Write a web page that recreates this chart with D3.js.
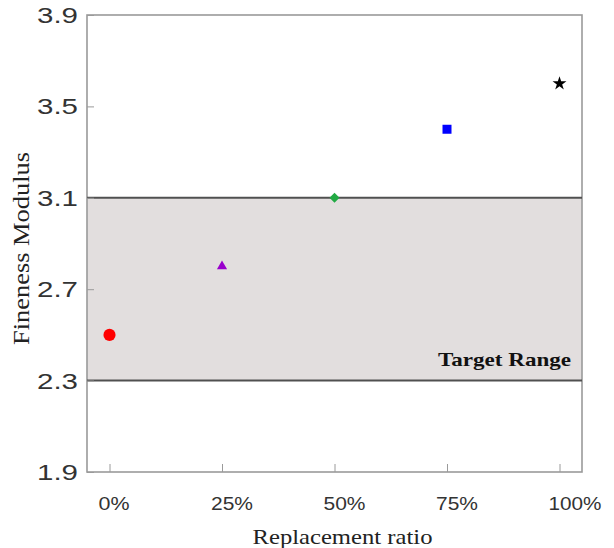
<!DOCTYPE html>
<html>
<head>
<meta charset="utf-8">
<script src="https://cdn.jsdelivr.net/npm/d3@7"></script>
<style>
  html, body { margin: 0; padding: 0; background: #fff; }
  svg { display: block; }
</style>
</head>
<body>
<svg id="chart" width="614" height="548"></svg>
<script>
// Replacement ratio (%) and measured fineness modulus
const ratios = [0, 25, 50, 75, 100];
const finenessModulus = [2.5, 2.8, 3.1, 3.4, 3.6];
const markerShapes = ["circle", "triangle", "diamond", "square", "star"];
const markerColors = ["#ff0000", "#9900cc", "#22aa44", "#0000ff", "#000000"];
const xTickLabels = ["0%", "25%", "50%", "75%", "100%"];
const yTicks = [1.9, 2.3, 2.7, 3.1, 3.5, 3.9];
const targetRange = [2.3, 3.1];

const svg = d3.select("#chart");
const margin = { left: 87, right: 32, top: 15, bottom: 76 };
const W = 614, H = 548;
const plotW = W - margin.left - margin.right;
const plotH = H - margin.top - margin.bottom;

const x = d3.scaleLinear().domain([-5, 105]).range([margin.left, margin.left + plotW]);
const y = d3.scaleLinear().domain([1.9, 3.9]).range([margin.top + plotH, margin.top]);

const sans = "Liberation Sans, Arial, sans-serif";
const serif = "Liberation Serif, Times New Roman, serif";

// Target range band
svg.append("rect")
  .attr("x", x(-5)).attr("width", x(105) - x(-5))
  .attr("y", y(targetRange[1])).attr("height", y(targetRange[0]) - y(targetRange[1]))
  .attr("fill", "#e2dede");

// Frame
svg.append("rect")
  .attr("x", x(-5)).attr("y", y(3.9))
  .attr("width", x(105) - x(-5)).attr("height", y(1.9) - y(3.9))
  .attr("fill", "none").attr("stroke", "#9a9a9a").attr("stroke-width", 1.6);

// Range boundaries
svg.selectAll("line.bound").data(targetRange).join("line")
  .attr("class", "bound")
  .attr("x1", x(-5)).attr("x2", x(105))
  .attr("y1", d => y(d)).attr("y2", d => y(d))
  .attr("stroke", "#505050").attr("stroke-width", 2);

// Y axis (ticks point inward)
const yAxis = svg.append("g")
  .attr("transform", `translate(${x(-5)},0)`)
  .call(d3.axisRight(y).tickValues(yTicks).tickSize(7).tickFormat(""));
yAxis.select(".domain").remove();
yAxis.selectAll("line").attr("stroke", "#9a9a9a").attr("stroke-width", 1);

svg.selectAll("text.ylab").data(yTicks).join("text")
  .attr("class", "ylab")
  .attr("x", 78).attr("y", d => y(d) + 8)
  .attr("text-anchor", "end")
  .attr("font-family", sans)
  .attr("font-size", 22).attr("fill", "#333")
  .attr("textLength", 41).attr("lengthAdjust", "spacingAndGlyphs")
  .text(d => d.toFixed(1));

// X axis (ticks point inward)
const xAxis = svg.append("g")
  .attr("transform", `translate(0,${y(1.9)})`)
  .call(d3.axisTop(x).tickValues(ratios).tickSize(8).tickFormat(""));
xAxis.select(".domain").remove();
xAxis.selectAll("line").attr("stroke", "#9a9a9a").attr("stroke-width", 1);

svg.selectAll("text.xlab").data(ratios).join("text")
  .attr("class", "xlab")
  .attr("x", d => x(d) - 11).attr("y", y(1.9) + 38)
  .attr("text-anchor", "start")
  .attr("font-family", sans)
  .attr("font-size", 18).attr("fill", "#333")
  .attr("textLength", (d, i) => xTickLabels[i].length * 11 + 9)
  .attr("lengthAdjust", "spacingAndGlyphs")
  .text((d, i) => xTickLabels[i]);

// Axis titles
svg.append("text")
  .attr("transform", `translate(29,${(y(1.9) + y(3.9)) / 2 + 5}) rotate(-90)`)
  .attr("text-anchor", "middle")
  .attr("font-family", serif)
  .attr("font-size", 23).attr("fill", "#222")
  .attr("textLength", 193).attr("lengthAdjust", "spacingAndGlyphs")
  .text("Fineness Modulus");

svg.append("text")
  .attr("x", (x(-5) + x(105)) / 2 + 8).attr("y", 544)
  .attr("text-anchor", "middle")
  .attr("font-family", serif)
  .attr("font-size", 22).attr("fill", "#222")
  .attr("textLength", 180).attr("lengthAdjust", "spacingAndGlyphs")
  .text("Replacement ratio");

// Band label
svg.append("text")
  .attr("x", x(105) - 11).attr("y", y(targetRange[0]) - 15)
  .attr("text-anchor", "end")
  .attr("font-family", serif)
  .attr("font-weight", "bold")
  .attr("font-size", 19).attr("fill", "#111")
  .attr("textLength", 133).attr("lengthAdjust", "spacingAndGlyphs")
  .text("Target Range");

// Data markers (diamond = square turned 45°)
const symbolTypes = {
  circle: [d3.symbolCircle, 115, 0],
  triangle: [d3.symbolTriangle, 45, 0],
  diamond: [d3.symbolSquare, 50, 45],
  square: [d3.symbolSquare, 81, 0],
  star: [d3.symbolStar, 60, 0]
};
svg.selectAll("path.pt").data(ratios).join("path")
  .attr("class", "pt")
  .attr("transform", (d, i) =>
    `translate(${x(d)},${y(finenessModulus[i])}) rotate(${symbolTypes[markerShapes[i]][2]})`)
  .attr("d", (d, i) => {
    const [t, s] = symbolTypes[markerShapes[i]];
    return d3.symbol().type(t).size(s)();
  })
  .attr("fill", (d, i) => markerColors[i]);
</script>
</body>
</html>
